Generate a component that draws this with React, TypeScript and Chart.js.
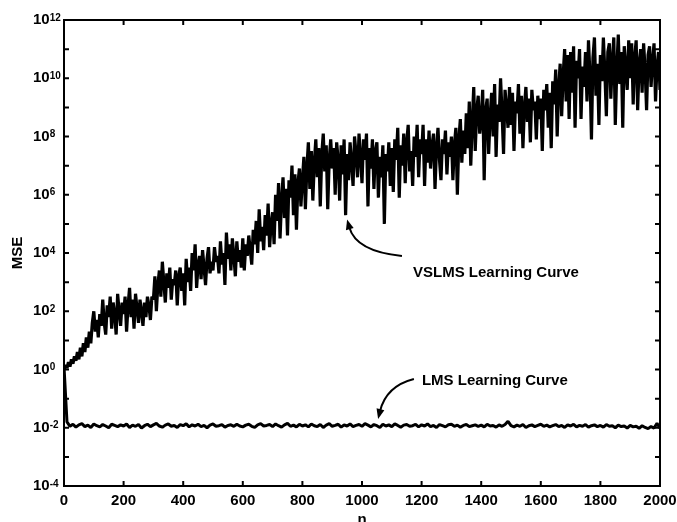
import React, { useEffect, useRef } from "react";
import { Chart, registerables } from "chart.js";

Chart.register(...registerables);

// ---------- axis definitions ----------
const X_MIN = 0;
const X_MAX = 2000;
const Y_MIN_EXP = -4;
const Y_MAX_EXP = 12;
const X_TICKS = [0, 200, 400, 600, 800, 1000, 1200, 1400, 1600, 1800, 2000];
const Y_TICK_EXPONENTS = [12, 10, 8, 6, 4, 2, 0, -2, -4];
const X_TITLE = "n";
const Y_TITLE = "MSE";

// ---------- series (log10 of MSE) ----------
const VSLMS_STEP = 5; // one value every 5 samples, n = 0..2000
const VSLMS_LOG10 = [
  0.0, 0.15, 0.05, 0.25, 0.1, 0.35, 0.2, 0.45, 0.3, 0.6, 0.35, 0.75, 0.45, 0.9, 0.6, 1.1, 0.75, 1.3, 0.9, 1.6,
  2.0, 1.3, 1.7, 1.1, 1.9, 1.5, 2.4, 1.6, 1.2, 2.2, 1.8, 2.5, 1.4, 2.3, 1.9, 1.2, 2.6, 2.0, 1.5, 2.3,
  1.9, 2.5, 1.3, 2.2, 2.8, 1.8, 2.4, 1.4, 2.6, 2.1, 1.6, 2.4, 2.0, 1.5, 2.3, 1.8, 2.5, 2.2, 1.7, 2.5,
  2.4, 3.2, 2.0, 2.9, 3.4, 2.5, 3.7, 3.0, 2.3, 3.3, 2.8, 3.5, 2.4, 3.1, 2.9, 3.4, 2.2, 3.2, 3.5, 2.7,
  3.3, 2.2, 3.8, 3.0, 3.5, 2.7, 4.0, 3.4, 4.3, 2.8, 3.6, 3.9, 3.1, 4.1, 3.5, 2.9, 3.8, 4.2, 3.3, 3.7,
  3.4, 4.2, 3.7, 3.9, 3.3, 4.4, 3.6, 4.0, 2.9, 4.7, 3.8, 4.3, 3.4, 4.5, 3.9, 3.2, 4.4, 3.7, 4.1, 3.5,
  4.5, 3.4, 4.3, 3.9, 4.6, 4.1, 3.6, 4.8, 4.3, 5.1, 4.0, 5.5, 4.4, 4.9, 4.1, 5.3, 4.6, 5.7, 4.2, 5.0,
  5.4, 4.3, 6.0, 5.1, 6.4, 4.5, 5.8, 6.6, 5.2, 6.2, 4.6, 6.5, 5.9, 7.0, 5.3, 6.7, 4.8, 6.4, 6.9, 5.6,
  6.5, 7.3, 5.5, 6.9, 7.8, 6.2, 7.5, 5.8, 7.1, 7.9, 6.6, 7.6, 5.6, 7.4, 8.1, 6.8, 7.7, 5.5, 7.2, 7.9,
  6.9, 7.6, 6.0, 7.8, 7.2, 5.8, 7.7, 6.7, 7.9, 5.3, 7.4, 6.5, 7.8, 7.1, 6.3, 8.0, 7.4, 6.6, 8.1, 7.3,
  6.4, 7.9, 7.2, 8.1, 5.6, 7.6, 6.9, 7.9, 6.2, 7.5, 7.8, 5.9, 7.3, 6.6, 7.7, 5.0, 7.4, 6.8, 7.8, 6.3,
  7.6, 6.1, 7.9, 7.2, 8.3, 5.9, 7.7, 7.0, 8.1, 6.4, 7.8, 8.4, 6.8, 7.5, 6.3, 8.0, 7.3, 8.4, 6.6, 7.9,
  7.4, 8.4, 6.3, 7.9, 7.1, 8.2, 6.9, 7.7, 8.1, 6.2, 7.6, 8.3, 7.2, 6.5, 7.9, 7.4, 8.2, 6.7, 7.8, 7.3,
  8.0, 6.5, 7.7, 8.3, 6.0, 7.9, 8.6, 7.1, 8.2, 7.4, 8.8, 7.6, 9.2, 7.0, 8.5, 9.7, 7.5, 8.9, 9.4, 8.1,
  8.6, 9.6, 6.5, 8.9, 9.3, 7.4, 8.7, 9.5, 8.0, 9.8, 7.3, 9.1, 8.5, 10.0, 8.8, 7.4, 9.6, 9.0, 8.3, 9.7,
  8.4, 9.5, 7.5, 9.2, 8.8, 9.8, 8.1, 9.4, 7.6, 9.0, 9.7, 8.5, 9.3, 7.8, 9.6, 8.9, 9.2, 7.9, 9.4, 8.6,
  9.3, 7.5, 9.6, 8.9, 9.8, 8.3, 9.5, 7.6, 9.9, 9.1, 10.3, 8.0, 9.7, 10.5, 8.7, 10.1, 11.0, 9.2, 10.8, 8.6,
  10.9, 9.5, 11.1, 8.3, 10.6, 10.0, 11.0, 8.6, 10.4, 9.7, 10.9, 9.2, 11.3, 10.1, 7.9, 10.7, 11.4, 9.4, 10.5, 8.4,
  10.8, 9.9, 11.4, 10.2, 8.7, 10.9, 11.2, 9.3, 10.6, 11.4, 8.4, 10.3, 11.5, 9.8, 10.9, 8.3, 11.1, 10.4, 9.6, 11.3,
  10.0, 11.2, 9.1, 10.7, 11.3, 8.9, 10.5, 11.0, 9.5, 11.2, 10.3, 8.9, 10.8, 11.1, 9.7, 10.6, 11.2, 9.2, 10.4, 10.9, 9.6,
];

const LMS_STEP = 10; // one value every 10 samples, n = 0..2000
const LMS_LOG10 = [
  0.1, -1.8, -1.95, -1.88, -1.98, -1.9, -1.86, -1.96, -1.91, -1.99, -1.87, -1.93, -1.97, -1.89, -1.94, -2.0, -1.88, -1.92, -1.96, -1.9,
  -1.94, -1.87, -1.99, -1.91, -1.95, -1.89, -2.01, -1.93, -1.88, -1.96, -1.9, -1.85, -1.94, -1.98, -1.91, -1.87, -1.95, -1.92, -1.99, -1.89,
  -1.93, -1.86, -1.97, -1.9, -1.94, -1.88, -1.96, -1.92, -2.0, -1.91, -1.87, -1.95, -1.93, -1.89, -1.98, -1.92, -1.9, -1.95, -1.88, -1.94,
  -1.97, -1.91, -1.88, -1.95, -1.99, -1.9, -1.86, -1.94, -1.92, -1.89, -1.96, -1.87, -1.93, -1.98, -1.9, -1.85, -1.95, -1.91, -1.97, -1.88,
  -1.94, -1.9, -1.97, -1.87, -1.93, -1.96, -1.89, -1.99, -1.91, -1.86, -1.95, -1.92, -1.88, -1.98, -1.9, -1.94, -1.87, -1.96, -1.92, -1.89,
  -1.95, -1.86, -1.91, -1.97, -1.89, -1.93, -1.99, -1.88, -1.94, -1.9, -1.96, -1.87, -1.92, -1.98, -1.91, -1.89, -1.95, -1.93, -1.88, -1.97,
  -1.9, -1.94, -1.87, -1.96, -1.92, -1.99, -1.89, -1.93, -1.97, -1.9, -1.88, -1.95, -1.91, -1.98, -1.92, -1.89, -1.96, -1.93, -1.9, -1.95,
  -1.91, -1.97, -1.88, -1.94, -1.92, -1.98, -1.9, -1.95, -1.89, -1.78, -1.93, -1.97, -1.91, -1.95, -1.89, -1.99, -1.93, -1.9, -1.96, -1.92,
  -1.88, -1.95, -1.91, -1.97, -1.93, -1.89, -1.96, -1.92, -1.99, -1.9, -1.94, -1.88, -1.97, -1.92, -1.95, -1.89, -1.98, -1.93, -1.9, -1.96,
  -1.92, -1.98, -1.89, -1.95, -1.93, -2.0, -1.91, -1.96, -1.94, -2.01, -1.92, -1.97, -1.95, -2.02, -1.93, -1.99, -2.03, -1.96, -2.01, -1.85,
  -2.02,
];

// ---------- annotations (anchor in data coordinates) ----------
const ANNOTATIONS = [
  {
    text: "VSLMS Learning Curve",
    textN: 1171,
    textExp: 3.18,
    tipN: 950,
    tipExp: 5.15,
    tailOffset: [-11, -21],
    ctrlOffset: [9, 32],
  },
  {
    text: "LMS Learning Curve",
    textN: 1201,
    textExp: -0.53,
    tipN: 1054,
    tipExp: -1.7,
    tailOffset: [-8, -6],
    ctrlOffset: [8, -33],
  },
];

const FONT_FAMILY = "'Liberation Sans', Arial, Helvetica, sans-serif";

const framePlugin = {
  id: "frame",
  afterDraw(chart: any) {
    const { ctx, chartArea: a, scales } = chart;
    const xs = scales.x;
    const ys = scales.y;
    ctx.save();
    ctx.strokeStyle = "#000";
    ctx.fillStyle = "#000";

    // box
    ctx.lineWidth = 2;
    ctx.strokeRect(a.left, a.top, a.right - a.left, a.bottom - a.top);

    // inward ticks
    ctx.beginPath();
    for (const v of X_TICKS) {
      const px = xs.getPixelForValue(v);
      ctx.moveTo(px, a.bottom);
      ctx.lineTo(px, a.bottom - 5);
      ctx.moveTo(px, a.top);
      ctx.lineTo(px, a.top + 5);
    }
    for (let e = Y_MIN_EXP; e <= Y_MAX_EXP; e++) {
      const py = ys.getPixelForValue(Math.pow(10, e));
      ctx.moveTo(a.left, py);
      ctx.lineTo(a.left + 5, py);
      ctx.moveTo(a.right, py);
      ctx.lineTo(a.right - 5, py);
    }
    ctx.stroke();

    // x tick labels
    ctx.font = `bold 15px ${FONT_FAMILY}`;
    ctx.textAlign = "center";
    ctx.textBaseline = "top";
    for (const v of X_TICKS) {
      ctx.fillText(String(v), xs.getPixelForValue(v), a.bottom + 7);
    }

    // y tick labels (10 with superscript exponent)
    for (const e of Y_TICK_EXPONENTS) {
      const py = ys.getPixelForValue(Math.pow(10, e));
      const lx = a.left - 31;
      ctx.font = `bold 15px ${FONT_FAMILY}`;
      ctx.textAlign = "left";
      ctx.textBaseline = "middle";
      ctx.fillText("10", lx, py);
      const w = ctx.measureText("10").width;
      ctx.font = `bold 10px ${FONT_FAMILY}`;
      ctx.textBaseline = "alphabetic";
      ctx.fillText(String(e), lx + w, py + 0.5);
    }

    // axis titles
    ctx.font = `bold 15px ${FONT_FAMILY}`;
    ctx.textAlign = "center";
    ctx.textBaseline = "alphabetic";
    ctx.fillText(X_TITLE, (a.left + a.right) / 2, a.bottom + 38);
    ctx.save();
    ctx.translate(a.left - 46, (a.top + a.bottom) / 2);
    ctx.rotate(-Math.PI / 2);
    ctx.textBaseline = "middle";
    ctx.fillText(Y_TITLE, 0, 0);
    ctx.restore();

    // annotations with curved arrows
    for (const an of ANNOTATIONS) {
      const tx = xs.getPixelForValue(an.textN);
      const ty = ys.getPixelForValue(Math.pow(10, an.textExp));
      ctx.font = `bold 15px ${FONT_FAMILY}`;
      ctx.textAlign = "left";
      ctx.textBaseline = "alphabetic";
      ctx.fillText(an.text, tx, ty);

      const tipX = xs.getPixelForValue(an.tipN);
      const tipY = ys.getPixelForValue(Math.pow(10, an.tipExp));
      const sx = tx + an.tailOffset[0];
      const sy = ty + an.tailOffset[1];
      const cx = tipX + an.ctrlOffset[0];
      const cy = tipY + an.ctrlOffset[1];
      const dx = tipX - cx;
      const dy = tipY - cy;
      const len = Math.hypot(dx, dy) || 1;
      const ux = dx / len;
      const uy = dy / len;
      const headLen = 10;
      const headW = 4;
      const bx = tipX - ux * headLen;
      const by = tipY - uy * headLen;

      ctx.lineWidth = 2;
      ctx.beginPath();
      ctx.moveTo(sx, sy);
      ctx.quadraticCurveTo(cx, cy, bx + ux * 2, by + uy * 2);
      ctx.stroke();

      ctx.beginPath();
      ctx.moveTo(tipX, tipY);
      ctx.lineTo(bx - uy * headW, by + ux * headW);
      ctx.lineTo(bx + uy * headW, by - ux * headW);
      ctx.closePath();
      ctx.fill();
    }
    ctx.restore();
  },
};

export default function App() {
  const canvasRef = useRef<HTMLCanvasElement | null>(null);

  useEffect(() => {
    if (!canvasRef.current) return;
    const vslms = VSLMS_LOG10.map((v, i) => ({ x: i * VSLMS_STEP, y: Math.pow(10, v) }));
    const lms = LMS_LOG10.map((v, i) => ({ x: i * LMS_STEP, y: Math.pow(10, v) }));

    const chart = new Chart(canvasRef.current, {
      type: "line",
      data: {
        datasets: [
          {
            label: "VSLMS Learning Curve",
            data: vslms,
            borderColor: "#000",
            borderWidth: 3.2,
            borderJoinStyle: "bevel",
            pointRadius: 0,
            tension: 0,
            fill: false,
          },
          {
            label: "LMS Learning Curve",
            data: lms,
            borderColor: "#000",
            borderWidth: 3,
            borderJoinStyle: "bevel",
            pointRadius: 0,
            tension: 0,
            fill: false,
          },
        ],
      },
      options: {
        responsive: false,
        animation: false,
        events: [],
        layout: { padding: { left: 64, right: 17, top: 20, bottom: 36 } },
        plugins: { legend: { display: false }, tooltip: { enabled: false } },
        scales: {
          x: { type: "linear", min: X_MIN, max: X_MAX, display: false },
          y: {
            type: "logarithmic",
            min: Math.pow(10, Y_MIN_EXP),
            max: Math.pow(10, Y_MAX_EXP),
            display: false,
          },
        },
      },
      plugins: [framePlugin],
    } as any);

    return () => chart.destroy();
  }, []);

  return (
    <div
      style={{
        position: "fixed",
        left: 0,
        top: 0,
        width: 677,
        height: 522,
        background: "#fff",
        overflow: "hidden",
      }}
    >
      <canvas ref={canvasRef} width={677} height={522} style={{ display: "block" }} />
    </div>
  );
}
